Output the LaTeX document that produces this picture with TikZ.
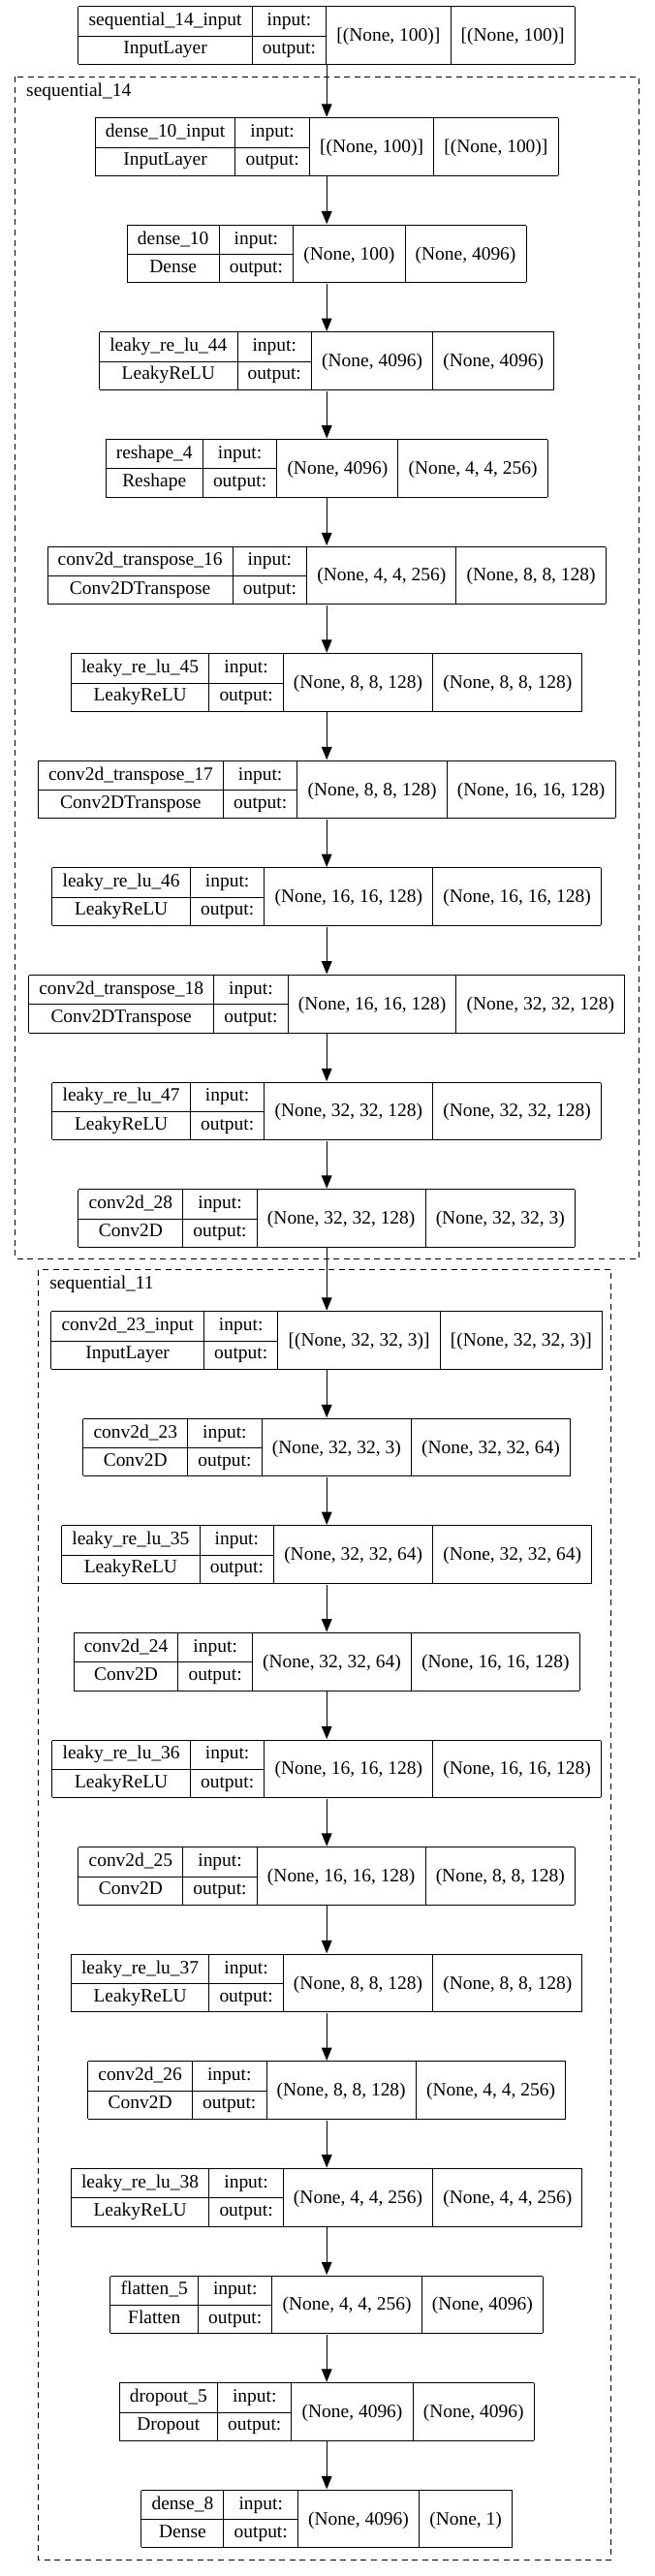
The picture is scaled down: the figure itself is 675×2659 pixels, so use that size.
\documentclass[tikz,border=0pt]{standalone}
\usepackage{fontspec}
\setmainfont{Liberation Serif}
\usepackage{multirow}
\usetikzlibrary{arrows.meta}

\setlength{\arrayrulewidth}{0.75pt}
\setlength{\tabcolsep}{8pt}
% one keras layer: name, class, input shape, output shape
\newcommand{\layerbox}[4]{%
	\begin{tabular}{|c|c|c|c|}\hline
		\raisebox{1pt}{#1} & \raisebox{1pt}{input:} & \multirow{2}{*}{#3} & \multirow{2}{*}{#4}\\ \cline{1-2}
		\raisebox{1pt}{#2} & \raisebox{1pt}{output:} & & \\ \hline
	\end{tabular}}

\tikzset{
	layer/.style={inner sep=0pt, anchor=north},
	group/.style={dashed, dash pattern=on 4.5pt off 3.4pt},
	grouplabel/.style={anchor=base west, inner sep=0pt}
}

\begin{document}
\begin{tikzpicture}[x=0.75pt, y=-0.75pt, >={Triangle[length=10pt,width=8pt]},
	line width=0.75pt, font={\fontsize{14.6}{22}\selectfont}]
\useasboundingbox (0,0) rectangle (675,2659);

% ==== input ====
\node[layer] (seqin) at (337.2,5.7)
	{\layerbox{sequential\_14\_input}{InputLayer}{[(None, 100)]}{[(None, 100)]}};

% ==== sequential_14 ====
\begin{scope}
	\draw[group] (15.7,79) rectangle (659,1299);
	\node[grouplabel] (s14) at (26.7,99) {sequential\_14};
	
	\node[layer] (d10in) at (337.2,120.7)
		{\layerbox{dense\_10\_input}{InputLayer}{[(None, 100)]}{[(None, 100)]}};
	\node[layer] (d10) at (337.2,231.3)
		{\layerbox{dense\_10}{Dense}{(None, 100)}{(None, 4096)}};
	\node[layer] (lr44) at (337.2,341.9)
		{\layerbox{leaky\_re\_lu\_44}{LeakyReLU}{(None, 4096)}{(None, 4096)}};
	\node[layer] (rs4) at (337.2,452.5)
		{\layerbox{reshape\_4}{Reshape}{(None, 4096)}{(None, 4, 4, 256)}};
	\node[layer] (ct16) at (337.2,563.1)
		{\layerbox{conv2d\_transpose\_16}{Conv2DTranspose}{(None, 4, 4, 256)}{(None, 8, 8, 128)}};
	\node[layer] (lr45) at (337.2,673.7)
		{\layerbox{leaky\_re\_lu\_45}{LeakyReLU}{(None, 8, 8, 128)}{(None, 8, 8, 128)}};
	\node[layer] (ct17) at (337.2,784.3)
		{\layerbox{conv2d\_transpose\_17}{Conv2DTranspose}{(None, 8, 8, 128)}{(None, 16, 16, 128)}};
	\node[layer] (lr46) at (337.2,894.9)
		{\layerbox{leaky\_re\_lu\_46}{LeakyReLU}{(None, 16, 16, 128)}{(None, 16, 16, 128)}};
	\node[layer] (ct18) at (337.2,1005.5)
		{\layerbox{conv2d\_transpose\_18}{Conv2DTranspose}{(None, 16, 16, 128)}{(None, 32, 32, 128)}};
	\node[layer] (lr47) at (337.2,1116.1)
		{\layerbox{leaky\_re\_lu\_47}{LeakyReLU}{(None, 32, 32, 128)}{(None, 32, 32, 128)}};
	\node[layer] (c28) at (337.2,1226.7)
		{\layerbox{conv2d\_28}{Conv2D}{(None, 32, 32, 128)}{(None, 32, 32, 3)}};
\end{scope}

% ==== sequential_11 ====
\begin{scope}
	\draw[group] (39.8,1310.7) rectangle (630.5,2642.3);
	\node[grouplabel] (s11) at (50.8,1330.7) {sequential\_11};
	
	\node[layer] (c23in) at (337.2,1352.7)
		{\layerbox{conv2d\_23\_input}{InputLayer}{[(None, 32, 32, 3)]}{[(None, 32, 32, 3)]}};
	\node[layer] (c23) at (337.2,1463.3)
		{\layerbox{conv2d\_23}{Conv2D}{(None, 32, 32, 3)}{(None, 32, 32, 64)}};
	\node[layer] (lr35) at (337.2,1573.9)
		{\layerbox{leaky\_re\_lu\_35}{LeakyReLU}{(None, 32, 32, 64)}{(None, 32, 32, 64)}};
	\node[layer] (c24) at (337.2,1684.5)
		{\layerbox{conv2d\_24}{Conv2D}{(None, 32, 32, 64)}{(None, 16, 16, 128)}};
	\node[layer] (lr36) at (337.2,1795.1)
		{\layerbox{leaky\_re\_lu\_36}{LeakyReLU}{(None, 16, 16, 128)}{(None, 16, 16, 128)}};
	\node[layer] (c25) at (337.2,1905.7)
		{\layerbox{conv2d\_25}{Conv2D}{(None, 16, 16, 128)}{(None, 8, 8, 128)}};
	\node[layer] (lr37) at (337.2,2016.3)
		{\layerbox{leaky\_re\_lu\_37}{LeakyReLU}{(None, 8, 8, 128)}{(None, 8, 8, 128)}};
	\node[layer] (c26) at (337.2,2126.9)
		{\layerbox{conv2d\_26}{Conv2D}{(None, 8, 8, 128)}{(None, 4, 4, 256)}};
	\node[layer] (lr38) at (337.2,2237.5)
		{\layerbox{leaky\_re\_lu\_38}{LeakyReLU}{(None, 4, 4, 256)}{(None, 4, 4, 256)}};
	\node[layer] (fl5) at (337.2,2348.1)
		{\layerbox{flatten\_5}{Flatten}{(None, 4, 4, 256)}{(None, 4096)}};
	\node[layer] (do5) at (337.2,2458.7)
		{\layerbox{dropout\_5}{Dropout}{(None, 4096)}{(None, 4096)}};
	\node[layer] (d8) at (337.2,2569.3)
		{\layerbox{dense\_8}{Dense}{(None, 4096)}{(None, 1)}};
\end{scope}

% ==== connections ====
\foreach \a/\b in {seqin/d10in, d10in/d10, d10/lr44, lr44/rs4, rs4/ct16, ct16/lr45,
	lr45/ct17, ct17/lr46, lr46/ct18, ct18/lr47, lr47/c28, c28/c23in,
	c23in/c23, c23/lr35, lr35/c24, c24/lr36, lr36/c25, c25/lr37, lr37/c26,
	c26/lr38, lr38/fl5, fl5/do5, do5/d8}
	\draw[->] (\a) -- (\b);

\end{tikzpicture}
\end{document}
